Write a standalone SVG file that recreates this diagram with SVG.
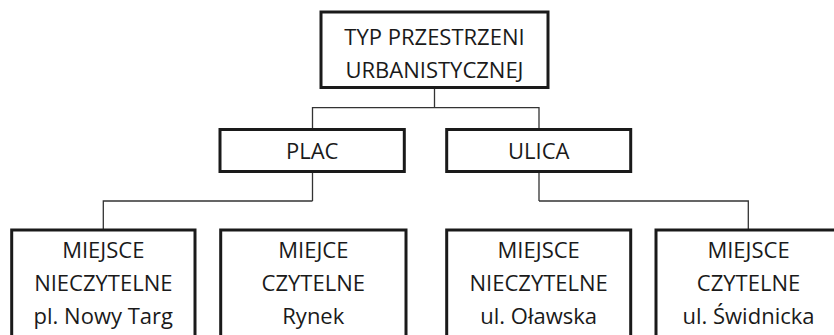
<svg xmlns="http://www.w3.org/2000/svg" width="834" height="335" viewBox="0 0 834 335">
<style>
.box{fill:#fff;stroke:#1a1a1a;stroke-width:3}
.t{font-family:"Open Sans","Liberation Sans",Arial,sans-serif;font-size:22px;fill:#1a1a1a;text-anchor:middle}
.c{fill:none;stroke:#333;stroke-width:1.3}
</style>
<rect width="834" height="335" fill="#fff"/>
<g id="connectors">
<path class="c" d="M434.5,87.5V107.7M312.5,129.5V107.7H539V129.5"/>
<path class="c" d="M312.5,171.5V201M103.3,230V201H312.5"/>
<path class="c" d="M539,171.5V201M539,201H748.3V230"/>
</g>
<g id="root">
<rect class="box" x="321" y="12" width="227" height="75.5"/>
<text class="t" x="434.5" y="45">TYP PRZESTRZENI</text>
<text class="t" x="434.5" y="78">URBANISTYCZNEJ</text>
</g>
<g id="plac">
<rect class="box" x="220" y="129.5" width="184.3" height="42"/>
<text class="t" x="312.2" y="158.5">PLAC</text>
</g>
<g id="ulica">
<rect class="box" x="446.7" y="129.5" width="184" height="42"/>
<text class="t" x="538.7" y="158.5">ULICA</text>
</g>
<g id="nowy-targ">
<rect class="box" x="11.7" y="230" width="183.3" height="120"/>
<text class="t" x="103.3" y="257.5">MIEJSCE</text>
<text class="t" x="103.3" y="290.5">NIECZYTELNE</text>
<text class="t" x="103.3" y="323.5">pl. Nowy Targ</text>
</g>
<g id="rynek">
<rect class="box" x="220.7" y="230" width="185.3" height="120"/>
<text class="t" x="313.3" y="257.5">MIEJCE</text>
<text class="t" x="313.3" y="290.5">CZYTELNE</text>
<text class="t" x="313.3" y="323.5">Rynek</text>
</g>
<g id="olawska">
<rect class="box" x="446.7" y="230" width="184" height="120"/>
<text class="t" x="538.7" y="257.5">MIEJSCE</text>
<text class="t" x="538.7" y="290.5">NIECZYTELNE</text>
<text class="t" x="538.7" y="323.5">ul. Oławska</text>
</g>
<g id="swidnicka">
<rect class="box" x="656" y="230" width="185" height="120"/>
<text class="t" x="748.5" y="257.5">MIEJSCE</text>
<text class="t" x="748.5" y="290.5">CZYTELNE</text>
<text class="t" x="748.5" y="323.5">ul. Świdnicka</text>
</g>
</svg>
